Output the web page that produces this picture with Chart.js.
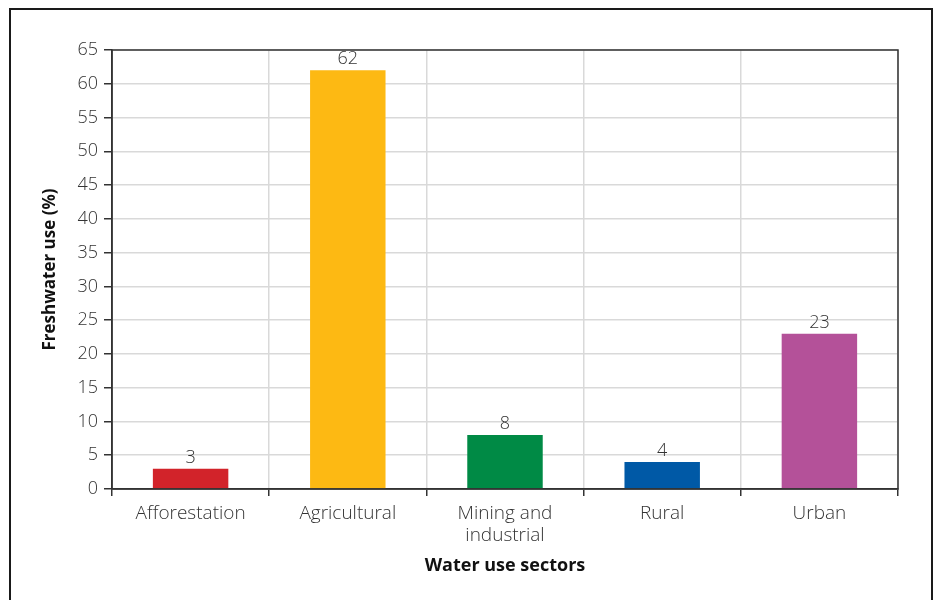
<!DOCTYPE html>
<html>
<head>
<meta charset="utf-8">
<script src="https://cdn.jsdelivr.net/npm/chart.js@4.4.1/dist/chart.umd.min.js"></script>
<style>
  html, body { margin: 0; padding: 0; background: #fff; overflow: hidden; }
  #wrap { position: relative; width: 936px; height: 600px; }
  #frame {
    position: absolute; left: 9px; top: 8px; width: 924px; height: 640px;
    border: 2px solid #1a1a1a; box-sizing: border-box;
  }
  canvas { position: absolute; left: 0; top: 0; }
</style>
</head>
<body>
<div id="wrap">
  <div id="frame"></div>
  <canvas id="waterChart" width="936" height="600"></canvas>
</div>
<script>
// Share of freshwater use by sector
const sectors = ['Afforestation', 'Agricultural', ['Mining and', 'industrial'], 'Rural', 'Urban'];
const freshwaterUse = [3, 62, 8, 4, 23];
const barColors = ['#d2232a', '#fdb913', '#008a45', '#0059a6', '#b45199'];

const FONT = "'Open Sans', 'Noto Sans', sans-serif";

// Value above each bar
const barValueLabels = {
    id: 'barValueLabels',
    afterDatasetsDraw(chart) {
        const ctx = chart.ctx;
        const meta = chart.getDatasetMeta(0);
        ctx.save();
        ctx.font = `300 18px ${FONT}`;
        ctx.fillStyle = '#333';
        ctx.textAlign = 'center';
        ctx.textBaseline = 'bottom';
        meta.data.forEach((bar, i) => {
            ctx.fillText(freshwaterUse[i], bar.x, bar.y - 2);
        });
        ctx.restore();
    }
};

// Dark box around the plot area
const plotBorder = {
    id: 'plotBorder',
    afterDraw(chart) {
        const { ctx, chartArea: a } = chart;
        ctx.save();
        ctx.strokeStyle = '#333';
        ctx.lineWidth = 1.5;
        ctx.strokeRect(a.left, a.top, a.right - a.left, a.bottom - a.top);
        ctx.restore();
    }
};

const ctx = document.getElementById('waterChart').getContext('2d');
new Chart(ctx, {
    type: 'bar',
    data: {
        labels: sectors,
        datasets: [{
            data: freshwaterUse,
            backgroundColor: barColors,
            barPercentage: 0.48,
            categoryPercentage: 1
        }]
    },
    options: {
        responsive: false,
        animation: false,
        layout: { padding: { top: 50, right: 38, left: 40, bottom: 23 } },
        plugins: {
            legend: { display: false },
            tooltip: { enabled: false }
        },
        scales: {
            x: {
                offset: true,
                grid: {
                    offset: true,
                    color: '#d9d9d9',
                    tickColor: '#333',
                    tickLength: 7,
                    lineWidth: 1.5
                },
                border: { color: '#333', width: 1.5 },
                ticks: {
                    color: '#333',
                    padding: 7,
                    maxRotation: 0,
                    font: { family: FONT, size: 19, weight: '300', lineHeight: 1.15 }
                },
                title: {
                    display: true,
                    text: 'Water use sectors',
                    color: '#111',
                    padding: 0,
                    font: { family: FONT, size: 18, weight: 'bold' }
                },
                afterFit(scale) { scale.height = 88; }
            },
            y: {
                min: 0,
                max: 65,
                grid: {
                    color: '#d9d9d9',
                    tickColor: '#333',
                    tickLength: 8,
                    lineWidth: 1.5
                },
                border: { color: '#333', width: 1.5 },
                ticks: {
                    stepSize: 5,
                    color: '#333',
                    padding: 6,
                    font: { family: FONT, size: 18, weight: '300' }
                },
                title: {
                    display: true,
                    text: 'Freshwater use (%)',
                    color: '#111',
                    padding: 0,
                    font: { family: FONT, size: 17, weight: 'bold' }
                },
                afterFit(scale) { scale.width = 72; }
            }
        }
    },
    plugins: [barValueLabels, plotBorder]
});
</script>
</body>
</html>
